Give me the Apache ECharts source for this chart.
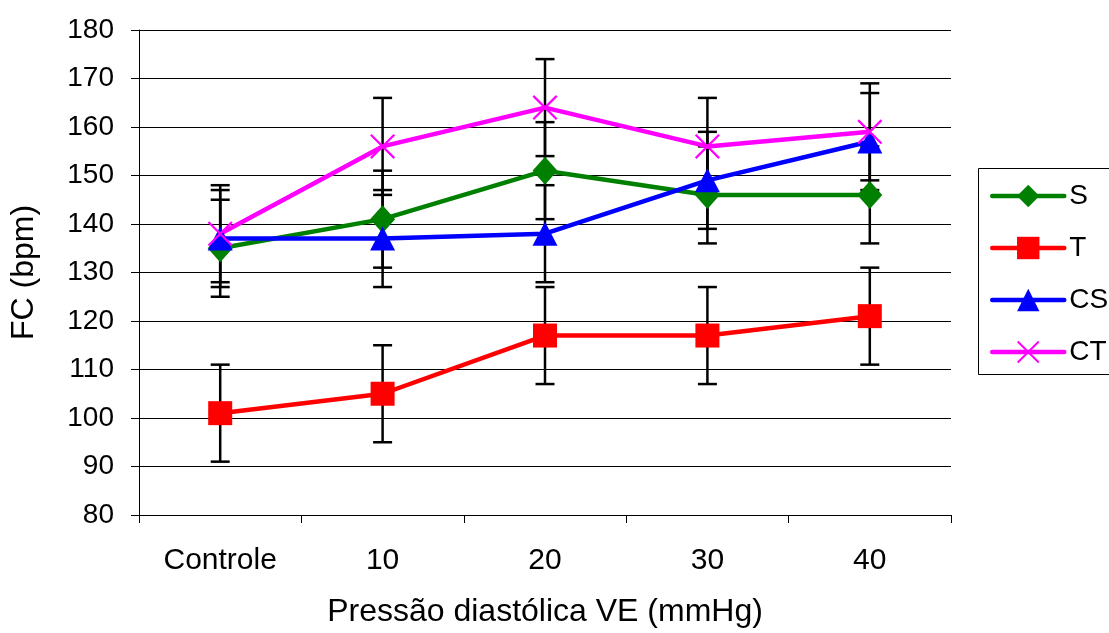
<!DOCTYPE html>
<html>
<head>
<meta charset="utf-8">
<script src="https://cdn.jsdelivr.net/npm/echarts@6/dist/echarts.min.js"></script>
<style>
    html, body { margin: 0; padding: 0; background: #fff; }
    #chart { width: 1109px; height: 633px; }
</style>
</head>
<body>
<div id="chart"></div>
<script>
    // valores
    var categories = ['Controle', '10', '20', '30', '40']
    var seriesNames = ['S', 'T', 'CS', 'CT']
    var valuesS = [135, 141, 151, 146, 146]
    var valuesT = [101, 105, 117, 117, 121]
    var valuesCS = [137, 137, 138, 149, 157]
    var valuesCT = [138, 156, 164, 156, 159]
    // desvio padrão (barras de erro)
    var errS = [10, 10, 10, 10, 10]
    var errT = [10, 10, 10, 10, 10]
    var errCS = [10, 10, 10, 10, 10]
    var errCT = [10, 10, 10, 10, 10]
    var yTicks = [80, 90, 100, 110, 120, 130, 140, 150, 160, 170, 180]

    var font = "'Liberation Sans', Arial, sans-serif"
    var xPath = 'path://M0,1.5L1.5,0L24,22.5L22.5,24Z M22.5,0L24,1.5L1.5,24L0,22.5Z'

    var allValues = [valuesS, valuesT, valuesCS, valuesCT]
    var allErr = [errS, errT, errCS, errCT]
    var errData = []
    allValues.forEach(function (vals, s) {
        vals.forEach(function (v, i) {
            errData.push([i, v - allErr[s][i], v + allErr[s][i]])
        })
    })

    function lineSeries(name, data, color, symbol, size) {
        return {
            name: name,
            type: 'line',
            data: data,
            symbol: symbol,
            symbolSize: size,
            z: 3,
            lineStyle: { color: color, width: 4.5 },
            itemStyle: { color: color }
        }
    }

    var chart = echarts.init(document.getElementById('chart'))
    chart.setOption({
        animation: false,
        textStyle: { fontFamily: font },
        grid: { left: 137, right: 158, top: 30, bottom: 118, containLabel: false },
        // moldura da legenda (cortada na borda direita, como no original)
        graphic: [{
            type: 'rect',
            shape: { x: 978.5, y: 168.5, width: 200, height: 206 },
            style: { fill: 'none', stroke: '#000', lineWidth: 1 }
        }],
        legend: {
            data: seriesNames,
            orient: 'vertical',
            left: 978,
            top: 168,
            padding: [14, 20, 8, 12],
            itemGap: 24,
            itemWidth: 72,
            itemHeight: 28,
            lineStyle: { width: 4.5, cap: 'round' },
            borderWidth: 0,
            textStyle: { fontSize: 28, lineHeight: 28, color: '#000', fontFamily: font }
        },
        xAxis: {
            type: 'category',
            data: categories,
            boundaryGap: true,
            name: 'Pressão diastólica VE (mmHg)',
            nameLocation: 'middle',
            nameGap: 81,
            nameTextStyle: { fontSize: 32, color: '#000', fontFamily: font },
            axisLine: { lineStyle: { color: '#000', width: 1 } },
            axisTick: { show: true, length: 8, lineStyle: { color: '#000' } },
            axisLabel: { fontSize: 30, color: '#000', margin: 31, fontFamily: font }
        },
        yAxis: {
            type: 'value',
            min: yTicks[0],
            max: yTicks[yTicks.length - 1],
            interval: 10,
            name: 'FC (bpm)',
            nameLocation: 'middle',
            nameGap: 99,
            nameTextStyle: { fontSize: 32, color: '#000', fontFamily: font },
            axisLine: { show: true, lineStyle: { color: '#000', width: 1 } },
            axisTick: { show: true, length: 8, lineStyle: { color: '#000' } },
            axisLabel: { fontSize: 28, color: '#000', margin: 25, fontFamily: font },
            splitLine: { lineStyle: { color: '#000', width: 1 } }
        },
        series: [
            {
                type: 'custom',
                name: 'erro',
                z: 2,
                data: errData,
                encode: { x: 0, y: [1, 2] },
                renderItem: function (params, api) {
                    var x = api.value(0)
                    var lo = api.coord([x, api.value(1)])
                    var hi = api.coord([x, api.value(2)])
                    var w = 9.5
                    var style = { stroke: '#000', lineWidth: 2.5 }
                    return {
                        type: 'group',
                        children: [
                            { type: 'line', shape: { x1: lo[0], y1: lo[1], x2: hi[0], y2: hi[1] }, style: style },
                            { type: 'line', shape: { x1: lo[0] - w, y1: lo[1], x2: lo[0] + w, y2: lo[1] }, style: style },
                            { type: 'line', shape: { x1: hi[0] - w, y1: hi[1], x2: hi[0] + w, y2: hi[1] }, style: style }
                        ]
                    }
                }
            },
            lineSeries('S', valuesS, '#008000', 'diamond', [25, 28]),
            lineSeries('T', valuesT, '#FF0000', 'rect', 24),
            lineSeries('CS', valuesCS, '#0000FF', 'triangle', [25, 24]),
            lineSeries('CT', valuesCT, '#FF00FF', xPath, 25)
        ]
    })
</script>
</body>
</html>
